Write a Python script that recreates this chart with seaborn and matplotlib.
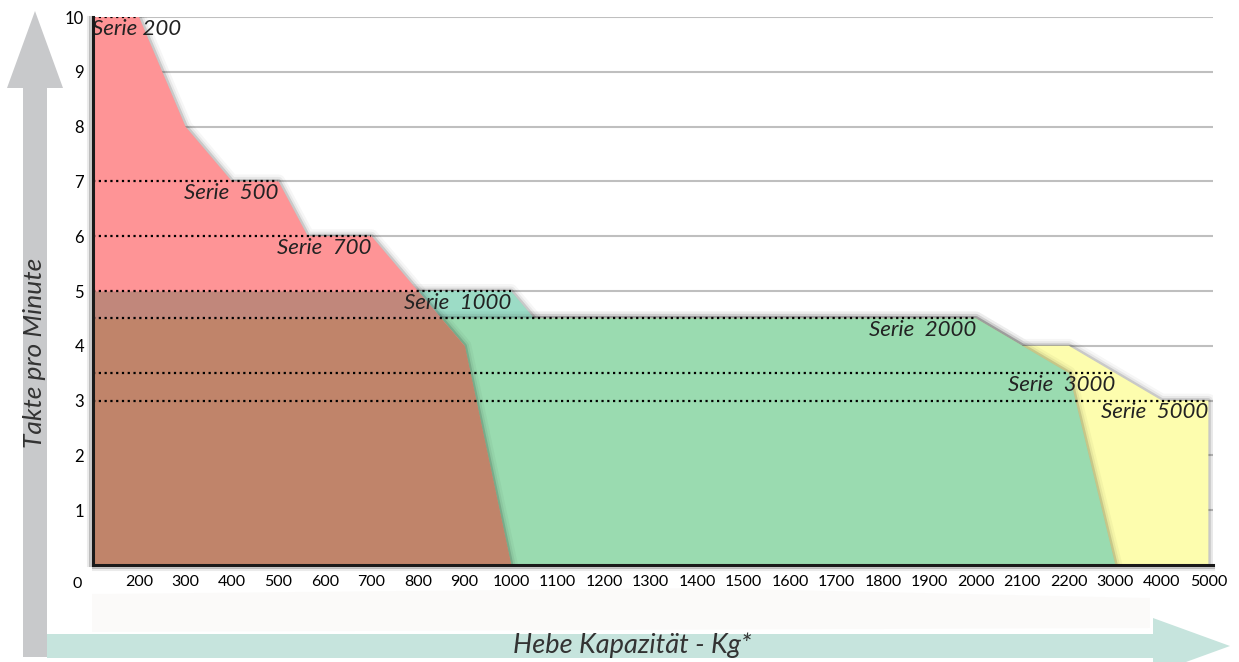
import numpy as np
import pandas as pd
import matplotlib
matplotlib.use('Agg')
import matplotlib.pyplot as plt
import matplotlib.patheffects as pe
from matplotlib.patches import Polygon
import seaborn as sns

# x axis is categorical: position 1..24 carries these labels, 0 sits at the corner
categories = ['200', '300', '400', '500', '600', '700', '800', '900', '1000',
              '1100', '1200', '1300', '1400', '1500', '1600', '1700', '1800',
              '1900', '2000', '2100', '2200', '3000', '4000', '5000']

# outlines of the areas (x in category positions, y in Takte pro Minute)
red_x = [0, 1, 2, 3, 4, 4.63, 6, 7, 7.5, 8, 9]
red_y = [10, 10, 8, 7, 7, 6, 6, 5, 4.5, 4, 0]
teal_x = [0, 9, 9.5]
teal_y = [5, 5, 4.5]
green_x = [0, 19, 21, 22]
green_y = [4.5, 4.5, 3.5, 0]
yellow_x = [0, 19, 20, 21, 23, 24]
yellow_y = [4.5, 4.5, 4, 4, 3, 3]

# dotted max lines per series
serie_names = ['Serie 200', 'Serie  500', 'Serie  700', 'Serie  1000',
               'Serie  2000', 'Serie  3000', 'Serie  5000']
serie_level = [10, 7, 6, 5, 4.5, 3.5, 3]
serie_end = [1, 4, 6, 9, 19, 22, 24]

W, H = 1239, 662
sns.set_theme(style='white')
plt.rcParams['font.family'] = ['Lato', 'DejaVu Sans']

fig = plt.figure(figsize=(W / 100, H / 100), dpi=100)

def fpx(x, y):
    return (x / W, 1 - y / H)

# background arrows
fig.add_artist(Polygon([fpx(23, 88), fpx(47, 88), fpx(47, 657), fpx(23, 657)],
                       closed=True, transform=fig.transFigure, color='#c8c9cb', lw=0))
fig.add_artist(Polygon([fpx(7, 88), fpx(63, 88), fpx(35, 11)],
                       closed=True, transform=fig.transFigure, color='#c8c9cb', lw=0))
fig.add_artist(Polygon([fpx(47, 634), fpx(1153, 634), fpx(1153, 658), fpx(47, 658)],
                       closed=True, transform=fig.transFigure, color='#c6e4dd', lw=0))
fig.add_artist(Polygon([fpx(1153, 618), fpx(1153, 674), fpx(1230, 646)],
                       closed=True, transform=fig.transFigure, color='#c6e4dd', lw=0))
fig.add_artist(Polygon([fpx(92, 594), fpx(700, 588), fpx(1150, 598), fpx(1150, 628), fpx(92, 632)],
                       closed=True, transform=fig.transFigure, color='#f3f1ee', alpha=0.3, lw=0))

ax = fig.add_axes([92.5 / W, 1 - 565 / H, (1213 - 92.5) / W, (565 - 17) / H])
ax.set_facecolor('none')

glow = [pe.Stroke(linewidth=10, foreground='black', alpha=0.035),
        pe.Stroke(linewidth=6.5, foreground='black', alpha=0.06),
        pe.Stroke(linewidth=3.5, foreground='black', alpha=0.13),
        pe.Normal()]

ax.fill_between(yellow_x, 0, yellow_y, color='#fdfdae', lw=0, path_effects=glow, zorder=2)
ax.fill_between(teal_x, 0, teal_y, color='#9cdcc6', lw=0, path_effects=glow, zorder=3)
ax.fill_between(green_x, 0, green_y, color='#9adbb0', lw=0, path_effects=glow, zorder=4)
ax.fill_between(red_x, 0, red_y, color='#fe9496', lw=0, path_effects=glow, zorder=5)

# overlaps of the red area with the ones beneath
xs = np.linspace(0, 9.5, 3000)
r = np.interp(xs, red_x, red_y, right=0)
t = np.interp(xs, teal_x, teal_y)
g = np.interp(xs, green_x, green_y)
low = np.minimum(r, g)
ax.fill_between(xs, 0, low, where=low > 0, color='#c0846a', lw=0, zorder=6)
top = np.minimum(r, t)
ax.fill_between(xs, g, top, where=top > g, color='#c1877b', lw=0, zorder=6)

# dotted lines
lines = pd.DataFrame({
    'serie': np.repeat(serie_names, 2),
    'x': np.ravel([[0, e] for e in serie_end]),
    'y': np.repeat(serie_level, 2),
})
sns.lineplot(data=lines, x='x', y='y', units='serie', estimator=None, sort=False,
             color='black', lw=1.6, ax=ax, zorder=7, legend=False)
for l in ax.get_lines():
    l.set_linestyle((0, (1, 1.6)))

for name, lev, end in zip(serie_names, serie_level, serie_end):
    if end == 1:
        ax.annotate(name, (0, lev), xytext=(0, -8.5), textcoords='offset points',
                    ha='left', va='center', style='italic', fontsize=16, color='#222222', zorder=8)
    else:
        ax.annotate(name, (end, lev), xytext=(0, -8.5), textcoords='offset points',
                    ha='right', va='center', style='italic', fontsize=16, color='#222222', zorder=8)

ax.set_xlim(0, 24.1)
ax.set_ylim(0, 10)
ax.set_xticks(range(1, 25))
ax.set_xticklabels(categories)
ax.set_yticks(range(1, 11))
ax.yaxis.grid(True, color='#bfbfbf', lw=1.5)
ax.set_axisbelow(True)
ax.tick_params(axis='x', length=3, width=1, color='#999999', pad=4.5, labelsize=11.5, labelcolor='black')
ax.tick_params(axis='y', length=0, pad=6, labelsize=12, labelcolor='black')
ax.annotate('0', (0, 0), xytext=(-11, -13.5), textcoords='offset points',
            ha='center', va='center', fontsize=11.5, color='black')
ax.set_xlabel('')
ax.set_ylabel('')

for side in ['top', 'right']:
    ax.spines[side].set_visible(False)
shadow_left = [pe.SimpleLineShadow(offset=(-3, 0), alpha=0.08, shadow_color='black'),
               pe.SimpleLineShadow(offset=(-1.5, 0), alpha=0.2, shadow_color='black'), pe.Normal()]
shadow_bottom = [pe.SimpleLineShadow(offset=(0, -3), alpha=0.08, shadow_color='black'),
                 pe.SimpleLineShadow(offset=(0, -1.5), alpha=0.2, shadow_color='black'), pe.Normal()]
for side, sh in [('left', shadow_left), ('bottom', shadow_bottom)]:
    ax.spines[side].set_color('#1a1a1a')
    ax.spines[side].set_linewidth(2.2)
    ax.spines[side].set_path_effects(sh)
    ax.spines[side].set_zorder(9)

fig.text(35 / W, 1 - 353 / H, 'Takte pro Minute', rotation=90, ha='center', va='center',
         style='italic', fontsize=19, color='#333333')
fig.text(632 / W, 1 - 645 / H, 'Hebe Kapazität - Kg*', ha='center', va='center',
         style='italic', fontsize=19.5, color='#333333')

fig.savefig('out.png', dpi=100)
